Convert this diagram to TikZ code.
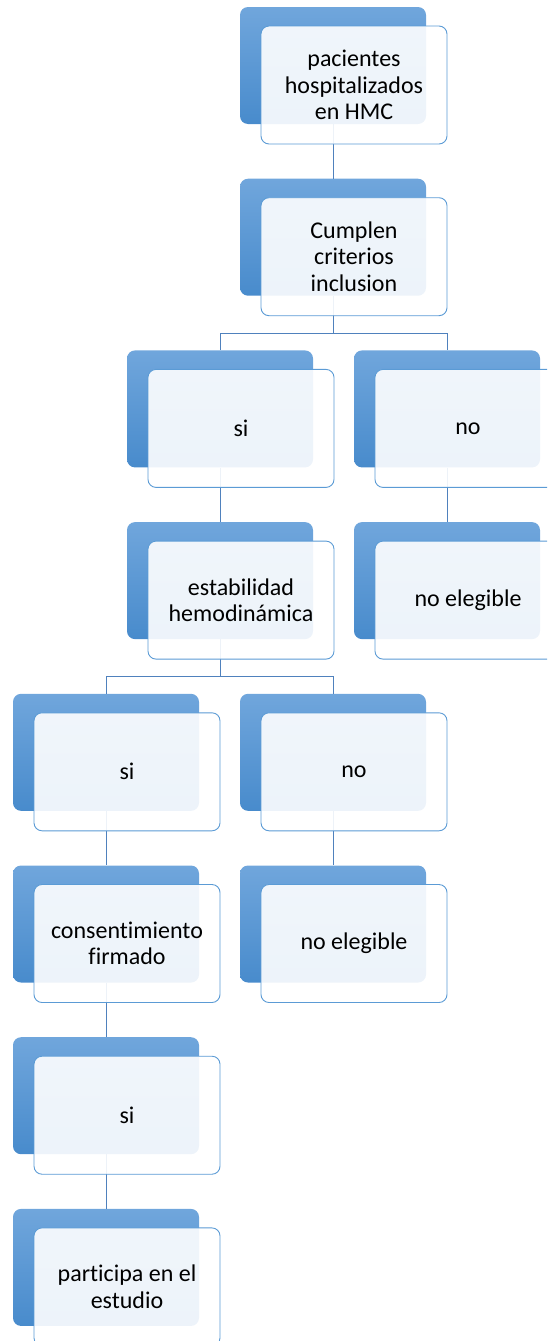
\documentclass[tikz,border=0pt]{standalone}
\usepackage{fontspec}
\setmainfont{Carlito}[Ligatures=NoCommon]
\definecolor{backtop}{RGB}{112,166,220}
\definecolor{backbot}{RGB}{72,139,204}
\definecolor{frontline}{RGB}{91,155,213}
\definecolor{connc}{RGB}{79,129,189}
\tikzset{
  backbox/.style={rectangle, rounded corners=8pt, minimum width=186pt, minimum height=117pt,
    top color=backtop, bottom color=backbot, draw=none, inner sep=0pt},
  frontbox/.style={rectangle, rounded corners=8pt, minimum width=186pt, minimum height=118pt,
    draw=frontline, line width=0.9pt, fill=white, fill opacity=0.9, text opacity=1,
    align=center, font=\fontsize{24}{26.5}\selectfont, inner sep=0pt, text=black},
  connector/.style={draw=connc, line width=0.9pt}
}
\newcommand\bk[3]{\node[backbox] (b#1) at ({(#2+93)*1pt},{-(#3+58.5)*1pt}) {};}
\newcommand\fr[2]{\node[frontbox] (f#1) at ([xshift=21pt,yshift=-19.5pt]b#1.center) {#2};}
\begin{document}
\begin{tikzpicture}
\useasboundingbox (0,0) rectangle (547pt,-1341pt);
\clip (0,0) rectangle (547pt,-1341pt);
% back boxes
\bk{1}{240}{7}
\bk{2}{240}{178.7}
\bk{3}{127}{350.4}
\bk{4}{354}{350.4}
\bk{5}{127}{522.1}
\bk{6}{354}{522.1}
\bk{7}{13}{693.8}
\bk{8}{240}{693.8}
\bk{9}{13}{865.5}
\bk{10}{240}{865.5}
\bk{11}{13}{1037.2}
\bk{12}{13}{1208.9}
% connectors
\draw[connector] (b1.south) -- (b2.north);
\draw[connector] (b2.south) -- ++(0,-37.5pt) -| (b3.north);
\draw[connector] (b2.south) -- ++(0,-37.5pt) -| (b4.north);
\draw[connector] (b3.south) -- (b5.north);
\draw[connector] (b4.south) -- (b6.north);
\draw[connector] (b5.south) -- ++(0,-37.5pt) -| (b7.north);
\draw[connector] (b5.south) -- ++(0,-37.5pt) -| (b8.north);
\draw[connector] (b7.south) -- (b9.north);
\draw[connector] (b8.south) -- (b10.north);
\draw[connector] (b9.south) -- (b11.north);
\draw[connector] (b11.south) -- (b12.north);
% front boxes
\fr{1}{pacientes\\hospitalizados\\en HMC}
\fr{2}{Cumplen\\criterios\\inclusion}
\fr{3}{si}
\fr{4}{no}
\fr{5}{estabilidad\\hemodinámica}
\fr{6}{no elegible}
\fr{7}{si}
\fr{8}{no}
\fr{9}{consentimiento\\firmado}
\fr{10}{no elegible}
\fr{11}{si}
\fr{12}{participa en el\\estudio}
\end{tikzpicture}
\end{document}
